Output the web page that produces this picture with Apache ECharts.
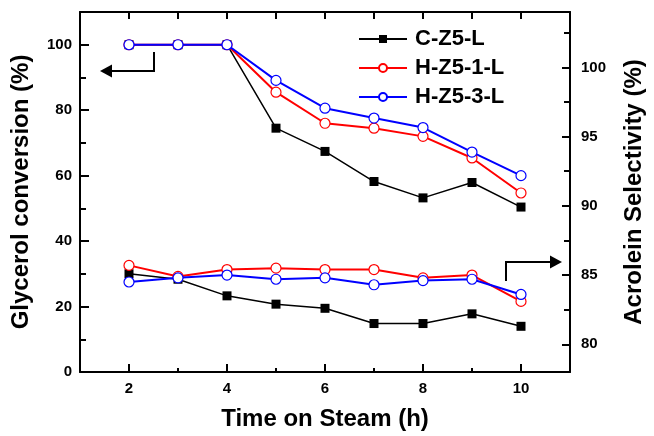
<!DOCTYPE html>
<html>
<head>
<meta charset="utf-8">
<script src="https://cdn.jsdelivr.net/npm/echarts@6/dist/echarts.min.js"></script>
<style>
  html, body { margin: 0; padding: 0; background: #fff; }
  #main { width: 654px; height: 436px; }
</style>
</head>
<body>
<div id="main"></div>
<script>
// time on steam (h)
var hours = [2, 3, 4, 5, 6, 7, 8, 9, 10];
var seriesNames = ['C-Z5-L', 'H-Z5-1-L', 'H-Z5-3-L'];

// glycerol conversion (%), left axis
var convC  = [100, 100, 100, 74.5, 67.4, 58.2, 53.2, 57.9, 50.4];
var convH1 = [100, 100, 100, 85.5, 76.0, 74.5, 72.0, 65.4, 54.7];
var convH3 = [100, 100, 100, 89.1, 80.6, 77.6, 74.7, 67.2, 60.0];

// acrolein selectivity (%), right axis
var selC  = [85.1, 84.7, 83.5, 82.9, 82.6, 81.5, 81.5, 82.2, 81.3];
var selH1 = [85.7, 84.9, 85.4, 85.5, 85.4, 85.4, 84.8, 85.0, 83.1];
var selH3 = [84.5, 84.8, 85.0, 84.7, 84.8, 84.3, 84.6, 84.7, 83.6];

// tick labels
var xLabels = [2, 4, 6, 8, 10];
var xMinor = [3, 5, 7, 9];
var leftLabels = [0, 20, 40, 60, 80, 100];
var leftMinor = [10, 30, 50, 70, 90];
var rightLabels = [80, 85, 90, 95, 100];
var rightMinor = [82.5, 87.5, 92.5, 97.5, 102.5];

var Chart = echarts.init(document.getElementById('main'));

var font = 'Liberation Sans';
var lblStyle = { fontFamily: font, fontWeight: 'bold', fontSize: 15, color: '#000' };
var nameStyle = { fontFamily: font, fontWeight: 'bold', fontSize: 24, color: '#000' };
var lineBlack = { show: true, lineStyle: { color: '#000', width: 2 } };

function pairs(ys) {
    return hours.map(function (h, i) { return [h, ys[i]]; });
}

var colors = ['#000000', '#ff0000', '#0000ff'];
var symbols = ['rect', 'circle', 'circle'];
var convData = [convC, convH1, convH3];
var selData = [selC, selH1, selH3];

var series = [];
for (var k = 0; k < 3; k++) {
    var base = {
        name: seriesNames[k],
        type: 'line',
        xAxisIndex: 0,
        symbol: symbols[k],
        symbolSize: k == 0 ? 9 : 10,
        lineStyle: { color: colors[k], width: k == 0 ? 1.5 : 2 },
        itemStyle: {
            color: k == 0 ? '#000' : '#fff',
            borderColor: colors[k],
            borderWidth: k == 0 ? 0 : 1.2
        },
        z: 2 + k
    };
    series.push(Object.assign({}, base, { yAxisIndex: 0, data: pairs(convData[k]) }));
    series.push(Object.assign({}, base, { yAxisIndex: 2, data: pairs(selData[k]) }));
}

option = {
    backgroundColor: '#fff',
    animation: false,
    grid: { left: 80, right: 82, top: 12, bottom: 63 },
    legend: {
        data: seriesNames,
        orient: 'vertical',
        left: 353,
        top: 23,
        itemWidth: 48,
        itemHeight: 10,
        itemGap: 7,
        textStyle: { fontFamily: font, fontWeight: 'bold', fontSize: 22, color: '#000', padding: [0, 0, 0, 3] }
    },
    xAxis: [
        {
            type: 'value', position: 'bottom', min: 1, max: 11,
            name: 'Time on Steam (h)', nameLocation: 'middle', nameGap: 35,
            nameTextStyle: nameStyle,
            axisLine: lineBlack,
            axisTick: { show: true, inside: true, length: 8, customValues: xLabels, lineStyle: { color: '#000', width: 2 } },
            axisLabel: Object.assign({ customValues: xLabels, margin: 9 }, lblStyle),
            splitLine: { show: false }
        },
        {
            type: 'value', position: 'bottom', min: 1, max: 11,
            axisLine: { show: false },
            axisTick: { show: true, inside: true, length: 4, customValues: xMinor, lineStyle: { color: '#000', width: 2 } },
            axisLabel: { show: false },
            splitLine: { show: false }
        },
        {
            type: 'value', position: 'top', min: 1, max: 11,
            axisLine: lineBlack,
            axisTick: { show: true, inside: true, length: 7, customValues: hours, lineStyle: { color: '#000', width: 2 } },
            axisLabel: { show: false },
            splitLine: { show: false }
        }
    ],
    yAxis: [
        {
            type: 'value', position: 'left', min: 0, max: 110,
            name: 'Glycerol conversion (%)', nameLocation: 'middle', nameGap: 47,
            nameTextStyle: nameStyle,
            axisLine: lineBlack,
            axisTick: { show: true, inside: true, length: 9, customValues: leftLabels, lineStyle: { color: '#000', width: 2 } },
            axisLabel: Object.assign({ customValues: leftLabels, margin: 8 }, lblStyle),
            splitLine: { show: false }
        },
        {
            type: 'value', position: 'left', min: 0, max: 110,
            axisLine: { show: false },
            axisTick: { show: true, inside: true, length: 6, customValues: leftMinor, lineStyle: { color: '#000', width: 2 } },
            axisLabel: { show: false },
            splitLine: { show: false }
        },
        {
            type: 'value', position: 'right', min: 78, max: 104,
            name: 'Acrolein Selectivity (%)', nameLocation: 'middle', nameGap: 52,
            nameTextStyle: nameStyle,
            axisLine: lineBlack,
            axisTick: { show: true, inside: true, length: 8, customValues: rightLabels, lineStyle: { color: '#000', width: 2 } },
            axisLabel: Object.assign({ customValues: rightLabels, margin: 11 }, lblStyle),
            splitLine: { show: false }
        },
        {
            type: 'value', position: 'right', min: 78, max: 104,
            axisLine: { show: false },
            axisTick: { show: true, inside: true, length: 6, customValues: rightMinor, lineStyle: { color: '#000', width: 2 } },
            axisLabel: { show: false },
            splitLine: { show: false }
        }
    ],
    graphic: [
        // arrow pointing to the left axis
        { type: 'polyline', shape: { points: [[154, 52], [154, 71], [110, 71]] }, style: { stroke: '#000', lineWidth: 2, fill: null } },
        { type: 'polygon', shape: { points: [[100, 71], [112, 64.5], [112, 77.5]] }, style: { fill: '#000' } },
        // arrow pointing to the right axis
        { type: 'polyline', shape: { points: [[506, 281], [506, 262], [551, 262]] }, style: { stroke: '#000', lineWidth: 2, fill: null } },
        { type: 'polygon', shape: { points: [[562, 262], [550, 255.5], [550, 268.5]] }, style: { fill: '#000' } }
    ],
    series: series
};

Chart.setOption(option);
</script>
</body>
</html>
